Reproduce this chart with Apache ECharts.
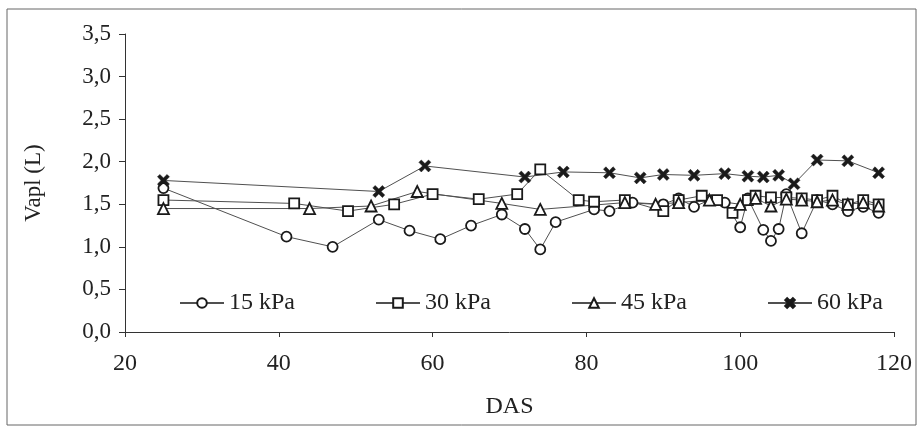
<!DOCTYPE html>
<html>
<head>
<meta charset="utf-8">
<script src="https://cdn.jsdelivr.net/npm/echarts@6/dist/echarts.min.js"></script>
<style>
  html, body { margin: 0; padding: 0; background: #fff; }
  #main-chart { width: 919px; height: 432px; }
</style>
</head>
<body>
<div id="main-chart"></div>
<script>
const chartDiv = 'main-chart';

// DAS (x) and Vapl (y), one pair of arrays per tension
const das15 = [25, 41, 47, 53, 57, 61, 65, 69, 72, 74, 76, 81, 83, 86, 90, 92, 94, 96, 98, 100, 101, 103, 104, 105, 106, 108, 110, 112, 114, 116, 118];
const vapl15 = [1.69, 1.12, 1.00, 1.32, 1.19, 1.09, 1.25, 1.38, 1.21, 0.97, 1.29, 1.44, 1.42, 1.52, 1.50, 1.57, 1.47, 1.55, 1.52, 1.23, 1.57, 1.20, 1.07, 1.21, 1.62, 1.16, 1.55, 1.50, 1.42, 1.47, 1.40];

const das30 = [25, 42, 49, 55, 60, 66, 71, 74, 79, 81, 85, 90, 92, 95, 97, 99, 101, 102, 104, 106, 108, 110, 112, 114, 116, 118];
const vapl30 = [1.55, 1.51, 1.42, 1.50, 1.62, 1.56, 1.62, 1.91, 1.55, 1.53, 1.55, 1.42, 1.55, 1.60, 1.55, 1.40, 1.55, 1.60, 1.58, 1.58, 1.57, 1.55, 1.60, 1.50, 1.55, 1.50];

const das45 = [25, 44, 52, 58, 69, 74, 85, 89, 92, 96, 100, 102, 104, 106, 108, 110, 112, 114, 116, 118];
const vapl45 = [1.45, 1.45, 1.48, 1.65, 1.51, 1.44, 1.52, 1.50, 1.52, 1.55, 1.50, 1.57, 1.48, 1.56, 1.55, 1.53, 1.55, 1.50, 1.52, 1.48];

const das60 = [25, 53, 59, 72, 77, 83, 87, 90, 94, 98, 101, 103, 105, 107, 110, 114, 118];
const vapl60 = [1.78, 1.65, 1.95, 1.82, 1.88, 1.87, 1.81, 1.85, 1.84, 1.86, 1.83, 1.82, 1.84, 1.74, 2.02, 2.01, 1.87];

const seriesNames = ['15 kPa', '30 kPa', '45 kPa', '60 kPa'];
const xTicks = {min: 20, max: 120, interval: 20};
const yTicks = {min: 0, max: 3.5, interval: 0.5};

const crossSymbol = 'path://M0,2 L2,0 L5,3 L8,0 L10,2 L7,5 L10,8 L8,10 L5,7 L2,10 L0,8 L3,5 Z';
const fontFamily = '"Liberation Serif", "Times New Roman", serif';

function zip(xs, ys) {
    return xs.map(function (x, i) {
        return [x, ys[i]];
    });
}

function makeSeries(name, data, symbol, size, filled) {
    return {
        name: name,
        type: 'line',
        data: data,
        symbol: symbol,
        symbolSize: size,
        showSymbol: true,
        lineStyle: {color: '#505050', width: 1},
        itemStyle: filled
            ? {color: '#1a1a1a', borderColor: '#1a1a1a', borderWidth: 0.5}
            : {color: '#fff', borderColor: '#1a1a1a', borderWidth: 1.8},
        emphasis: {disabled: true},
        z: 3
    };
}

let mainChart = echarts.init(document.getElementById(chartDiv));

mainChart.setOption({
    backgroundColor: '#fff',
    animation: false,
    textStyle: {fontFamily: fontFamily, color: '#222'},
    grid: {left: 125, right: 25, top: 34, bottom: 100},
    graphic: [{
        type: 'rect',
        shape: {x: 7, y: 9, width: 909, height: 416},
        style: {fill: 'none', stroke: '#666', lineWidth: 1},
        silent: true
    }],
    legend: {
        data: seriesNames,
        left: 174,
        top: 286,
        itemWidth: 44,
        itemHeight: 12,
        itemGap: 80,
        textStyle: {fontFamily: fontFamily, fontSize: 24, color: '#222'}
    },
    xAxis: {
        type: 'value',
        min: xTicks.min,
        max: xTicks.max,
        interval: xTicks.interval,
        name: 'DAS',
        nameLocation: 'middle',
        nameGap: 63,
        nameTextStyle: {fontFamily: fontFamily, fontSize: 24, color: '#222'},
        axisLine: {onZero: false, lineStyle: {color: '#333', width: 1}},
        axisTick: {show: true, length: 5, lineStyle: {color: '#333'}},
        axisLabel: {fontFamily: fontFamily, fontSize: 24, color: '#222', margin: 20},
        splitLine: {show: false}
    },
    yAxis: {
        type: 'value',
        min: yTicks.min,
        max: yTicks.max,
        interval: yTicks.interval,
        name: 'Vapl (L)',
        nameLocation: 'middle',
        nameGap: 80,
        nameTextStyle: {fontFamily: fontFamily, fontSize: 23, color: '#222'},
        axisLine: {show: true, lineStyle: {color: '#333', width: 1}},
        axisTick: {show: true, length: 6, lineStyle: {color: '#333'}},
        axisLabel: {
            fontFamily: fontFamily,
            fontSize: 23,
            color: '#222',
            margin: 14,
            formatter: function (v) {
                return v.toFixed(1).replace('.', ',');
            }
        },
        splitLine: {show: false}
    },
    series: [
        makeSeries(seriesNames[0], zip(das15, vapl15), 'circle', 10, false),
        makeSeries(seriesNames[1], zip(das30, vapl30), 'rect', 10, false),
        makeSeries(seriesNames[2], zip(das45, vapl45), 'triangle', 11, false),
        makeSeries(seriesNames[3], zip(das60, vapl60), crossSymbol, 12, true)
    ]
});
</script>
</body>
</html>
